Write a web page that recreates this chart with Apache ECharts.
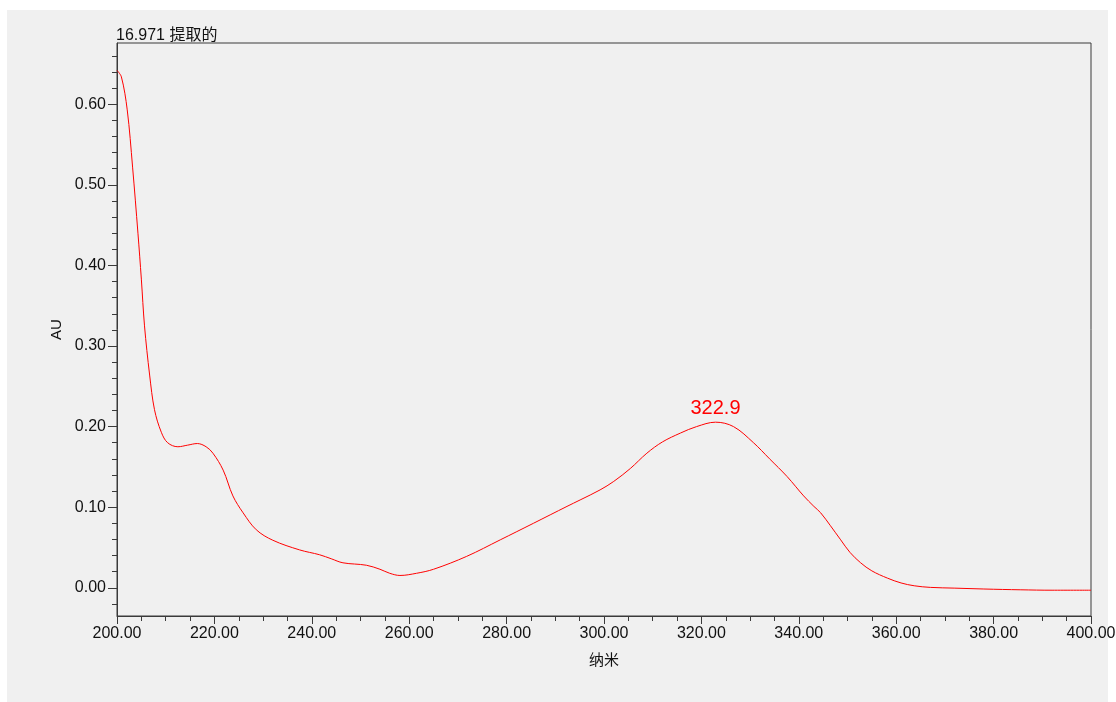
<!DOCTYPE html>
<html>
<head>
<meta charset="utf-8">
<title>16.971 提取的</title>
<script src="https://cdn.jsdelivr.net/npm/echarts@6/dist/echarts.min.js"></script>
<style>
  html, body { margin: 0; padding: 0; background: #ffffff; }
  #panel { position: absolute; left: 7px; top: 10px; width: 1101px; height: 692px; background: #f0f0f0; }
  #chart { position: absolute; left: 0; top: 0; width: 1116px; height: 702px; }
</style>
</head>
<body>
<div id="panel"></div>
<div id="chart"></div>
<script>
// UV spectrum of the extracted peak at 16.971 min
const titleText = '16.971 提取的';
const xName = '纳米';
const yName = 'AU';

// wavelength (nm)
const wavelength = [
  200, 200.9, 202.1, 203.2, 204.3, 205, 205.65, 206.7, 207.7, 209.1, 210.4,
  212.5, 214.5, 216.5, 218.3, 219.7, 221.8, 223.8, 225.9, 228.6, 232,
  237.5, 241.6, 244, 246.4, 251.2, 254, 256, 258.1, 261.5, 265,
  271.8, 278.7, 285.5, 292.4, 295.1, 299.2, 302, 305.4, 308.8, 312,
  315.7, 319, 322.9, 326.6, 330.7, 334, 337.6, 341, 343.1, 344.5,
  346.5, 348.6, 350.5, 352.7, 355, 358.2, 361, 363.7, 367, 371.9,
  378, 385.6, 392, 400
];
// absorbance (AU)
const absorbance = [
  0.642, 0.634, 0.593, 0.522, 0.440, 0.383, 0.325, 0.264, 0.221, 0.193, 0.180,
  0.175, 0.177, 0.179, 0.175, 0.167, 0.146, 0.114, 0.093, 0.072, 0.059,
  0.047, 0.041, 0.036, 0.031, 0.028, 0.023, 0.018, 0.0153, 0.018, 0.023,
  0.039, 0.0595, 0.080, 0.101, 0.109, 0.1215, 0.132, 0.148, 0.167, 0.181,
  0.192, 0.200, 0.2055, 0.200, 0.180, 0.160, 0.138, 0.114, 0.101, 0.093,
  0.077, 0.0595, 0.044, 0.031, 0.021, 0.012, 0.006, 0.0025, 0.0005, -0.0004,
  -0.0015, -0.0025, -0.003, -0.003
];
// wavelength of the labelled maximum
const peakWavelength = 322.9;

// y-axis tick positions
const yMajorTicks = [0, 0.1, 0.2, 0.3, 0.4, 0.5, 0.6];
const yMinorTicks = [-0.02, 0.02, 0.04, 0.06, 0.08, 0.12, 0.14, 0.16, 0.18,
  0.22, 0.24, 0.26, 0.28, 0.32, 0.34, 0.36, 0.38, 0.42, 0.44, 0.46, 0.48,
  0.52, 0.54, 0.56, 0.58, 0.62, 0.64, 0.66];

const FONT = "'Liberation Sans', Arial, 'Noto Sans CJK SC', sans-serif";
const AXIS_COLOR = '#3a3a3a';
const TEXT_COLOR = '#111111';

const seriesData = wavelength.map((w, i) => [w, absorbance[i]]);
const peakIndex = wavelength.indexOf(peakWavelength);

const chart = echarts.init(document.getElementById('chart'), null, { renderer: 'canvas' });
chart.setOption({
  backgroundColor: 'transparent',
  animation: false,
  title: {
    text: titleText,
    left: 111,
    top: 23,
    textStyle: { fontSize: 16, fontWeight: 'normal', color: TEXT_COLOR, fontFamily: FONT }
  },
  grid: {
    left: 117, top: 43, right: 25, bottom: 86,
    outerBoundsMode: 'none',
    containLabel: false,
    show: true, borderColor: AXIS_COLOR, borderWidth: 1, backgroundColor: 'transparent'
  },
  xAxis: {
    type: 'value',
    min: 200, max: 400, interval: 20,
    name: xName,
    nameLocation: 'middle',
    nameGap: 37,
    nameTextStyle: { fontSize: 15, color: TEXT_COLOR, fontFamily: FONT },
    axisLine: { show: true, onZero: false, lineStyle: { color: AXIS_COLOR } },
    axisTick: { show: true, inside: false, length: 8, lineStyle: { color: AXIS_COLOR } },
    minorTick: { show: true, splitNumber: 4, length: 5, lineStyle: { color: AXIS_COLOR } },
    axisLabel: {
      margin: 10, fontSize: 16, color: TEXT_COLOR, fontFamily: FONT,
      hideOverlap: false,
      formatter: v => v.toFixed(2)
    },
    splitLine: { show: false },
    minorSplitLine: { show: false }
  },
  yAxis: [
    {
      type: 'value',
      min: -0.035, max: 0.676,
      name: yName,
      nameLocation: 'middle',
      nameGap: 49,
      nameTextStyle: { fontSize: 15, color: TEXT_COLOR, fontFamily: FONT },
      axisLine: { show: true, onZero: false, lineStyle: { color: AXIS_COLOR } },
      axisTick: { show: true, length: 9, customValues: yMajorTicks, lineStyle: { color: AXIS_COLOR } },
      axisLabel: {
        margin: 11, fontSize: 16, color: TEXT_COLOR, fontFamily: FONT,
        customValues: yMajorTicks,
        formatter: v => v.toFixed(2)
      },
      splitLine: { show: false }
    },
    {
      type: 'value',
      position: 'left',
      min: -0.035, max: 0.676,
      axisLine: { show: false },
      axisTick: { show: true, length: 5, customValues: yMinorTicks, lineStyle: { color: AXIS_COLOR } },
      axisLabel: { show: false },
      splitLine: { show: false }
    }
  ],
  series: [
    {
      type: 'line',
      yAxisIndex: 0,
      data: seriesData,
      smooth: 0.35,
      showSymbol: false,
      lineStyle: { color: '#ff0000', width: 1 },
      markPoint: {
        symbol: 'circle',
        symbolSize: 0,
        silent: true,
        label: {
          show: true,
          position: 'top',
          distance: 4,
          color: '#ff0000',
          fontSize: 20,
          fontFamily: FONT,
          formatter: p => p.data.coord[0].toFixed(1)
        },
        data: [{ coord: seriesData[peakIndex] }]
      }
    }
  ]
});
</script>
</body>
</html>
